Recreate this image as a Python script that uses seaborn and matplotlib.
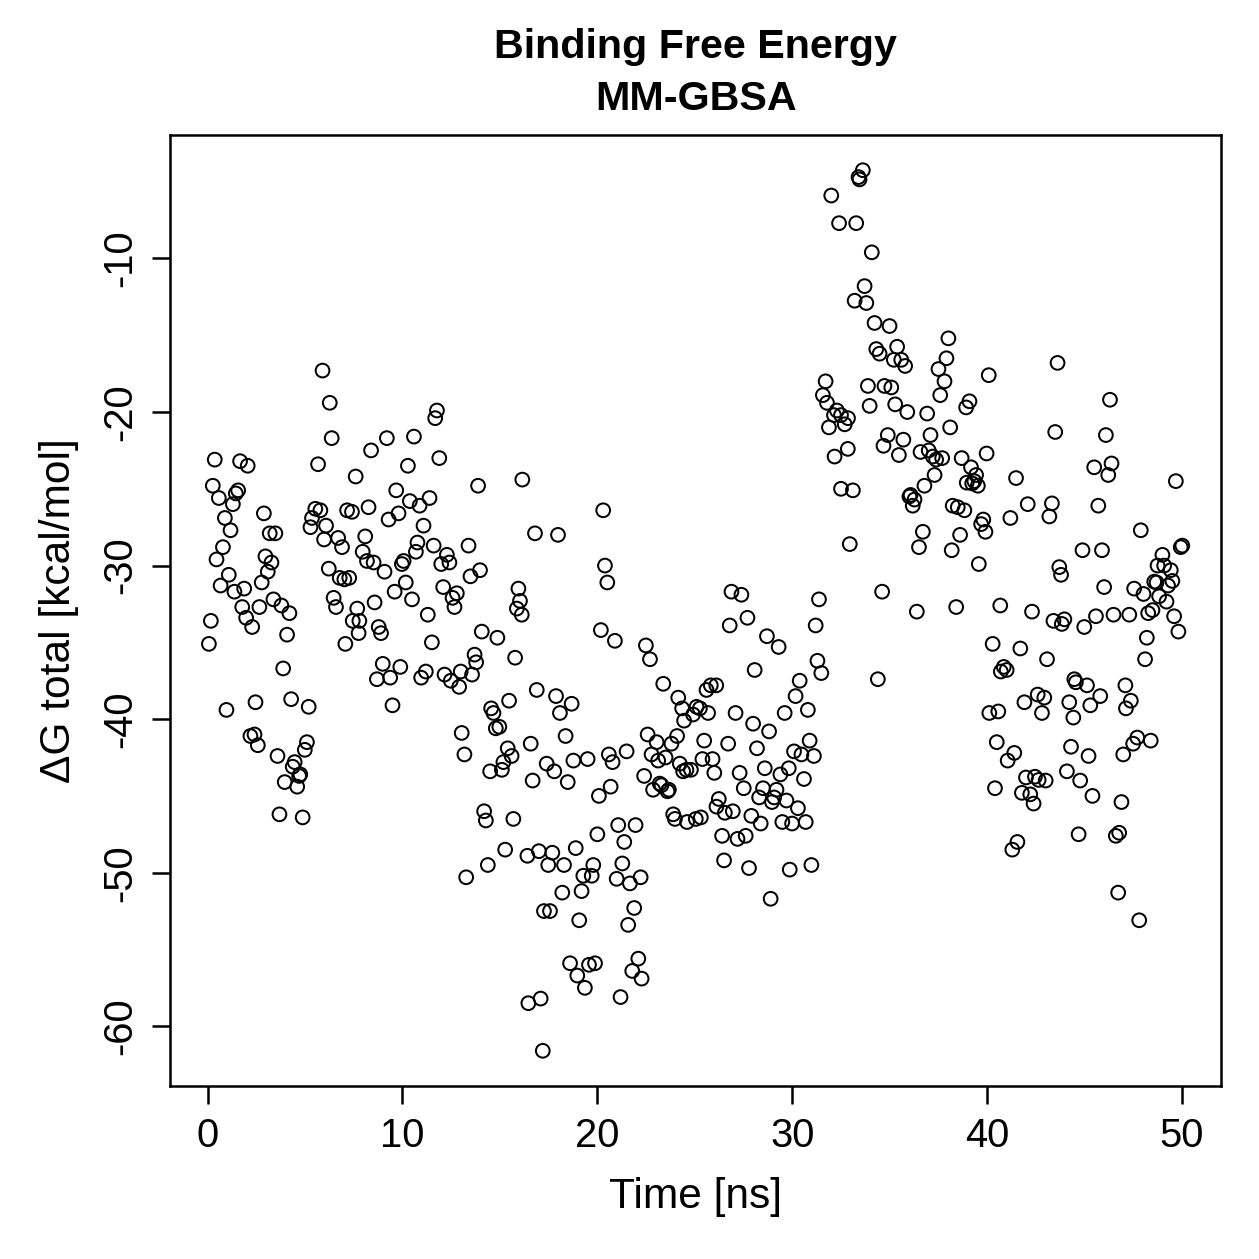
import numpy as np
import pandas as pd
import seaborn as sns
import matplotlib.pyplot as plt

# ---------------- data (time in ns, dG in kcal/mol) ----------------
t_00_10 = [0.07, 0.17, 0.27, 0.37, 0.46, 0.58, 0.67, 0.79, 0.89, 0.97,
           1.09, 1.18, 1.30, 1.38, 1.45, 1.57, 1.67, 1.78, 1.88, 1.98,
           2.06, 2.20, 2.29, 2.41, 2.46, 2.58, 2.66, 2.78, 2.89, 2.97,
           3.09, 3.19, 3.28, 3.38, 3.48, 3.59, 3.69, 3.79, 3.88, 3.96,
           4.08, 4.20, 4.29, 4.37, 4.47, 4.60, 4.70, 4.76, 4.88, 4.99,
           5.10, 5.19, 5.28, 5.36, 5.53, 5.67, 5.79, 5.90, 5.98, 6.08,
           6.22, 6.27, 6.37, 6.47, 6.59, 6.70, 6.78, 6.90, 7.02, 7.07,
           7.16, 7.27, 7.41, 7.45, 7.60, 7.68, 7.75, 7.79, 7.96, 8.09,
           8.18, 8.26, 8.39, 8.52, 8.57, 8.69, 8.78, 8.90, 8.99, 9.08,
           9.20, 9.29, 9.37, 9.49, 9.60, 9.68, 9.80, 9.89, 9.97]
dg_00_10 = [-35.1, -33.6, -24.8, -23.1, -29.6, -25.6, -31.3, -28.8, -26.9, -39.4,
            -30.6, -27.7, -26.0, -31.7, -25.3, -25.1, -23.2, -32.7, -31.5, -33.4,
            -23.5, -41.1, -34.0, -41.0, -38.9, -41.7, -32.7, -31.1, -26.6, -29.4,
            -30.4, -27.9, -29.8, -32.2, -27.9, -42.4, -46.2, -32.6, -36.7, -44.1,
            -34.5, -33.1, -38.7, -43.1, -42.8, -44.4, -43.7, -43.6, -46.4, -42.0,
            -41.5, -39.2, -27.5, -26.9, -26.3, -23.4, -26.4, -17.3, -28.3, -27.4,
            -30.2, -19.4, -21.7, -32.1, -32.7, -28.2, -30.8, -28.8, -30.9, -35.1,
            -26.4, -30.8, -26.5, -33.6, -24.2, -32.8, -34.4, -33.6, -29.1, -28.1,
            -29.7, -26.2, -22.5, -29.8, -32.4, -37.4, -34.0, -34.4, -36.4, -30.4,
            -21.7, -27.0, -37.3, -39.1, -31.7, -25.1, -26.6, -36.6, -29.9]

t_10_20 = [10.06, 10.17, 10.28, 10.38, 10.49, 10.59, 10.69, 10.77, 10.88, 10.96,
           11.08, 11.20, 11.30, 11.39, 11.51, 11.60, 11.68, 11.77, 11.89, 11.99,
           12.09, 12.16, 12.28, 12.41, 12.48, 12.57, 12.67, 12.79, 12.91, 12.99,
           13.04, 13.18, 13.27, 13.39, 13.49, 13.57, 13.70, 13.78, 13.88, 13.98,
           14.07, 14.19, 14.28, 14.38, 14.50, 14.55, 14.67, 14.79, 14.87, 14.97,
           15.10, 15.18, 15.27, 15.40, 15.47, 15.60, 15.69, 15.78, 15.87, 15.95,
           16.03, 16.12, 16.15, 16.41, 16.46, 16.58, 16.68, 16.80, 16.89, 17.00,
           17.09, 17.20, 17.26, 17.40, 17.48, 17.57, 17.69, 17.79, 17.88, 17.98,
           18.08, 18.20, 18.29, 18.37, 18.48, 18.60, 18.68, 18.77, 18.89, 18.97,
           19.07, 19.19, 19.28, 19.36, 19.50, 19.57, 19.71, 19.79, 19.88]
dg_10_20 = [-29.7, -31.1, -23.5, -25.8, -32.2, -21.6, -29.1, -28.5, -26.1, -37.3,
            -27.4, -36.9, -33.2, -25.6, -35.0, -28.7, -20.4, -19.9, -23.0, -29.9,
            -31.4, -37.1, -29.3, -29.8, -37.5, -32.1, -32.7, -31.8, -37.9, -36.9,
            -40.9, -42.3, -50.3, -28.7, -30.7, -37.1, -35.8, -36.3, -24.8, -30.3,
            -34.3, -46.0, -46.6, -49.5, -43.4, -39.3, -39.6, -40.6, -34.7, -40.5,
            -43.3, -42.8, -48.5, -41.9, -38.8, -42.4, -46.5, -36.0, -32.8, -31.5,
            -32.3, -33.2, -24.4, -48.9, -58.5, -41.6, -44.0, -27.9, -38.1, -48.6,
            -58.2, -61.6, -52.5, -42.9, -49.5, -52.5, -48.7, -43.4, -38.5, -28.0,
            -39.6, -51.3, -49.5, -41.1, -44.1, -55.9, -39.0, -42.7, -48.4, -56.7,
            -53.1, -51.2, -50.2, -57.5, -42.6, -56.0, -50.2, -49.5, -55.9]

t_20_30 = [20.00, 20.08, 20.18, 20.30, 20.39, 20.51, 20.59, 20.68, 20.78, 20.90,
           20.99, 21.07, 21.19, 21.28, 21.38, 21.50, 21.58, 21.67, 21.79, 21.89,
           21.96, 22.10, 22.22, 22.27, 22.40, 22.49, 22.58, 22.70, 22.78, 22.86,
           23.04, 23.12, 23.20, 23.29, 23.38, 23.50, 23.60, 23.67, 23.80, 23.89,
           23.98, 24.09, 24.15, 24.23, 24.35, 24.40, 24.45, 24.57, 24.60, 24.80,
           24.91, 25.05, 25.09, 25.26, 25.31, 25.39, 25.48, 25.60, 25.68, 25.82,
           25.91, 26.00, 26.10, 26.11, 26.23, 26.40, 26.50, 26.54, 26.71, 26.79,
           26.88, 26.95, 27.09, 27.19, 27.30, 27.39, 27.51, 27.61, 27.70, 27.78,
           27.90, 27.99, 28.07, 28.19, 28.30, 28.38, 28.50, 28.59, 28.70, 28.81,
           28.89, 28.96, 29.07, 29.19, 29.30, 29.39, 29.49, 29.61, 29.70, 29.82,
           29.87, 29.99]
dg_20_30 = [-47.5, -45.0, -34.2, -26.4, -30.0, -31.1, -42.3, -44.4, -42.8, -34.9,
            -50.4, -46.9, -58.1, -49.4, -48.0, -42.1, -53.4, -50.7, -56.4, -52.3,
            -46.9, -55.6, -50.3, -56.9, -43.7, -35.2, -41.0, -36.1, -42.3, -44.6,
            -41.5, -42.7, -44.2, -44.3, -37.7, -42.5, -44.7, -44.6, -41.6, -46.2,
            -46.5, -41.1, -38.6, -42.9, -39.3, -43.4, -40.1, -43.3, -46.7, -43.3,
            -39.7, -46.5, -39.2, -39.3, -46.4, -42.6, -41.4, -38.1, -39.6, -37.8,
            -42.6, -43.5, -37.8, -45.7, -45.2, -47.6, -49.2, -46.1, -41.6, -33.9,
            -31.7, -46.0, -39.6, -47.8, -43.5, -31.9, -44.5, -47.6, -33.4, -49.7,
            -46.3, -40.3, -36.8, -41.9, -45.1, -46.8, -44.5, -43.2, -34.6, -40.8,
            -51.7, -45.4, -45.1, -44.6, -35.3, -43.6, -46.7, -39.6, -45.3, -43.2,
            -49.8, -46.8]

t_30_40 = [30.09, 30.17, 30.29, 30.38, 30.47, 30.60, 30.69, 30.80, 30.89, 30.98,
           31.11, 31.20, 31.29, 31.37, 31.49, 31.57, 31.71, 31.78, 31.88, 32.00,
           32.14, 32.17, 32.29, 32.40, 32.50, 32.50, 32.69, 32.85, 32.86, 32.95,
           33.11, 33.20, 33.28, 33.40, 33.45, 33.62, 33.71, 33.80, 33.88, 33.97,
           34.08, 34.22, 34.31, 34.39, 34.48, 34.61, 34.68, 34.73, 34.90, 34.99,
           35.08, 35.21, 35.28, 35.38, 35.47, 35.59, 35.70, 35.79, 35.90, 36.01,
           36.07, 36.18, 36.27, 36.39, 36.50, 36.58, 36.70, 36.78, 36.92, 37.00,
           37.09, 37.21, 37.30, 37.38, 37.50, 37.59, 37.69, 37.81, 37.91, 38.01,
           38.10, 38.18, 38.23, 38.41, 38.49, 38.61, 38.69, 38.83, 38.92, 38.95,
           39.09, 39.17, 39.23, 39.34, 39.43, 39.52, 39.57, 39.69, 39.80, 39.91,
           39.97]
dg_30_40 = [-42.1, -38.5, -45.8, -37.5, -42.3, -43.9, -46.7, -39.4, -41.4, -49.5,
            -42.4, -33.9, -36.2, -32.2, -37.0, -18.9, -18.0, -19.4, -21.0, -5.9,
            -20.2, -22.9, -19.9, -7.7, -25.0, -20.2, -20.8, -22.4, -20.4, -28.6,
            -25.1, -12.75, -7.7, -4.7, -4.85, -4.25, -11.8, -12.9, -18.3, -19.6,
            -9.6, -14.2, -15.9, -37.4, -16.2, -31.7, -22.2, -18.3, -21.5, -14.4,
            -18.4, -16.6, -19.5, -15.75, -22.8, -16.6, -21.8, -17.0, -20.0, -25.5,
            -25.4, -26.1, -25.7, -33.0, -28.8, -22.6, -27.8, -24.8, -20.1, -22.5,
            -21.5, -22.9, -24.1, -23.1, -17.2, -18.9, -23.0, -18.0, -16.5, -15.2,
            -21.0, -29.0, -26.1, -32.7, -26.2, -28.0, -23.0, -26.4, -19.7, -24.6,
            -19.3, -23.6, -24.65, -24.5, -24.1, -24.8, -29.9, -27.3, -27.0, -27.8,
            -22.7]

t_40_50 = [40.08, 40.11, 40.28, 40.40, 40.49, 40.57, 40.67, 40.70, 40.85, 41.00,
           41.05, 41.19, 41.29, 41.39, 41.48, 41.55, 41.70, 41.78, 41.91, 41.99,
           42.08, 42.21, 42.30, 42.38, 42.45, 42.59, 42.64, 42.81, 42.93, 43.00,
           43.07, 43.19, 43.32, 43.40, 43.49, 43.61, 43.70, 43.79, 43.83, 43.96,
           44.09, 44.21, 44.30, 44.42, 44.47, 44.55, 44.69, 44.77, 44.89, 44.98,
           45.12, 45.20, 45.29, 45.40, 45.49, 45.58, 45.70, 45.80, 45.89, 46.00,
           46.09, 46.21, 46.30, 46.38, 46.48, 46.60, 46.72, 46.77, 46.89, 46.98,
           47.09, 47.12, 47.29, 47.37, 47.49, 47.54, 47.70, 47.80, 47.88, 48.02,
           48.10, 48.19, 48.26, 48.39, 48.48, 48.57, 48.69, 48.74, 48.82, 48.99,
           49.08, 49.20, 49.28, 49.42, 49.50, 49.59, 49.68, 49.81, 49.93, 50.01]
dg_40_50 = [-17.6, -39.6, -35.1, -44.5, -41.5, -39.5, -32.6, -36.9, -36.6, -36.8,
            -42.7, -26.9, -48.5, -42.2, -24.3, -48.0, -35.4, -44.8, -38.9, -43.8,
            -26.0, -44.9, -33.0, -45.5, -43.75, -38.4, -43.96, -39.6, -38.6, -44.0,
            -36.1, -26.8, -25.95, -33.6, -21.3, -16.8, -30.1, -30.6, -33.8, -33.5,
            -43.4, -38.9, -41.8, -39.9, -37.4, -37.6, -47.5, -44.0, -29.0, -34.0,
            -37.8, -42.4, -39.1, -45.0, -23.6, -33.3, -26.1, -38.5, -29.0, -31.4,
            -21.5, -24.1, -19.2, -23.35, -33.2, -47.6, -51.3, -47.4, -45.4, -42.3,
            -37.8, -39.3, -33.2, -38.8, -41.6, -31.5, -41.2, -53.1, -27.7, -31.85,
            -36.1, -34.7, -33.1, -41.4, -32.9, -31.05, -31.1, -30.0, -32.0, -29.3,
            -30.0, -32.35, -31.3, -30.3, -31.0, -33.3, -24.5, -34.3, -28.8, -28.7]

x_ticks = [0, 10, 20, 30, 40, 50]
y_ticks = [-60, -50, -40, -30, -20, -10]

df = pd.DataFrame({
    "time": t_00_10 + t_10_20 + t_20_30 + t_30_40 + t_40_50,
    "dG": dg_00_10 + dg_10_20 + dg_20_30 + dg_30_40 + dg_40_50,
})

# ---------------- style ----------------
sns.set_style("ticks")
plt.rcParams['font.family'] = ['Liberation Sans', 'DejaVu Sans']
plt.rcParams['text.color'] = 'black'
plt.rcParams['axes.labelcolor'] = 'black'

fig = plt.figure(figsize=(1259 / 180, 1259 / 180), dpi=180)
ax = fig.add_axes([0.135, 0.1374, 0.835, 0.7554])

sns.scatterplot(data=df, x="time", y="dG", ax=ax, marker="o", s=30,
                facecolor="none", edgecolor="black", linewidth=0.8)

# R-style 4% axis expansion
def r_lim(v):
    lo, hi = min(v), max(v)
    pad = 0.04 * (hi - lo)
    return lo - pad, hi + pad

ax.set_xlim(r_lim(df["time"]))
ax.set_ylim(r_lim(df["dG"]))
ax.set_xticks(x_ticks)
ax.set_yticks(y_ticks)
ax.set_xticklabels([str(v) for v in x_ticks])
ax.set_yticklabels([str(v) for v in y_ticks], rotation=90, va="center")

for sp in ax.spines.values():
    sp.set_visible(True)
    sp.set_linewidth(1.0)
    sp.set_color("black")
ax.tick_params(axis="both", direction="out", length=7.2, width=1.0,
               color="black", labelsize=16, pad=5, labelcolor="black")

ax.set_xlabel("Time [ns]", fontsize=17, labelpad=9, color="black")
ax.set_ylabel("\u0394G total [kcal/mol]", fontsize=17, labelpad=9, color="black")
ax.set_title("Binding Free Energy\nMM-GBSA", fontsize=16.5, color="black",
             fontweight="bold", pad=10, linespacing=1.45)

fig.savefig("out.png", dpi=180)
